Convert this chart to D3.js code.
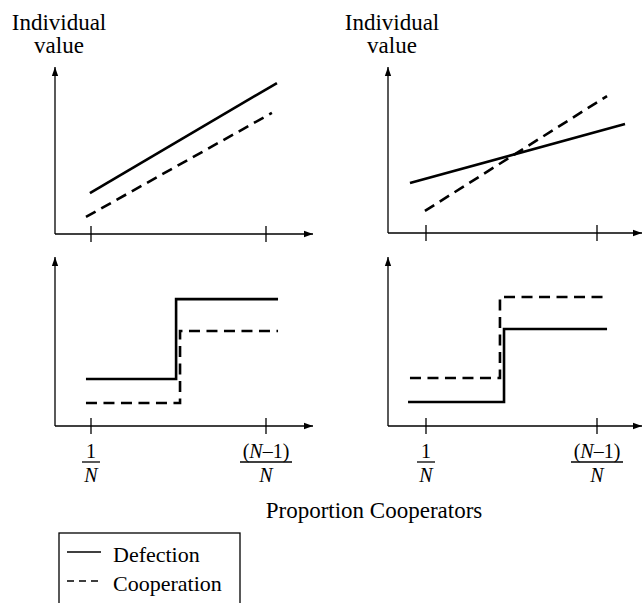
<!DOCTYPE html>
<html>
<head>
<meta charset="UTF-8">
<style>
  body { margin: 0; background: #fff; }
  svg text { font-family: "Liberation Serif", serif; fill: #000; }
</style>
</head>
<body>
<svg width="642" height="603"></svg>
<script src="https://cdn.jsdelivr.net/npm/d3@7"></script>
<script>
// x: proportion of cooperators (ticks at 1/N and (N-1)/N, drawn as 0.1 and 0.9)
// y: individual value (arbitrary units 0..100)
const tickValues = [0.1, 0.9];
const tickLabels = [["1", "N"], ["(N–1)", "N"]];

const seriesNames = ["Defection", "Cooperation"];

// top-left: linear, defection above cooperation
const tlDefX = [0.095, 0.95], tlDefY = [24.5, 90.4];
const tlCoopX = [0.077, 0.927], tlCoopY = [10.2, 72.5];

// top-right: linear, lines cross
const trDefX = [0.025, 1.031], trDefY = [30.1, 65.7];
const trCoopX = [0.095, 0.947], trCoopY = [13.3, 82.5];

// bottom-left: step, defection above
const blDefX = [0.077, 0.489, 0.955], blDefY = [27.8, 75.1, 75.1];
const blCoopX = [0.077, 0.507, 0.955], blCoopY = [13.6, 56.2, 56.2];

// bottom-right: step, cooperation above
const brDefX = [0.016, 0.465, 0.947], brDefY = [14.2, 57.4, 57.4];
const brCoopX = [0.025, 0.446, 0.947], brCoopY = [28.4, 76.3, 76.3];

const svg = d3.select("svg");

const defs = svg.append("defs");
defs.append("marker")
    .attr("id", "arrow")
    .attr("viewBox", "0 -5 10 10")
    .attr("refX", 10)
    .attr("refY", 0)
    .attr("markerWidth", 9)
    .attr("markerHeight", 9)
    .attr("markerUnits", "userSpaceOnUse")
    .attr("orient", "auto")
    .append("path")
    .attr("d", "M0,-3.5L10,0L0,3.5Z")
    .attr("fill", "#000");

// panel layout: origin, axis ends, tick pixel positions
const panels = [
    { ox: 55, oy: 234, xEnd: 313, yTop: 67, t0: 91, t1: 266, kind: "line",
      def: [tlDefX, tlDefY], coop: [tlCoopX, tlCoopY], title: true, ticks: false },
    { ox: 388, oy: 233, xEnd: 642, yTop: 67, t0: 426, t1: 597, kind: "line",
      def: [trDefX, trDefY], coop: [trCoopX, trCoopY], title: true, ticks: false },
    { ox: 55, oy: 426, xEnd: 313, yTop: 257, t0: 91, t1: 266, kind: "step",
      def: [blDefX, blDefY], coop: [blCoopX, blCoopY], title: false, ticks: true },
    { ox: 388, oy: 426, xEnd: 642, yTop: 257, t0: 426, t1: 597, kind: "step",
      def: [brDefX, brDefY], coop: [brCoopX, brCoopY], title: false, ticks: true }
];

panels.forEach(p => {
    const x = d3.scaleLinear().domain(tickValues).range([p.t0, p.t1]);
    const y = d3.scaleLinear().domain([0, 100]).range([p.oy, p.yTop]);
    const g = svg.append("g");

    // axes with arrow heads
    g.append("line")
        .attr("x1", p.ox).attr("y1", p.oy)
        .attr("x2", p.xEnd).attr("y2", p.oy)
        .attr("stroke", "#000").attr("stroke-width", 1.3)
        .attr("marker-end", "url(#arrow)");
    g.append("line")
        .attr("x1", p.ox).attr("y1", p.oy)
        .attr("x2", p.ox).attr("y2", p.yTop)
        .attr("stroke", "#000").attr("stroke-width", 1.3)
        .attr("marker-end", "url(#arrow)");

    // tick marks
    g.selectAll(".tick")
        .data(tickValues)
        .enter()
        .append("line")
        .attr("x1", d => x(d)).attr("x2", d => x(d))
        .attr("y1", p.oy - 8).attr("y2", p.oy + 8)
        .attr("stroke", "#000").attr("stroke-width", 1.3);

    const line = d3.line()
        .x(d => x(d[0]))
        .y(d => y(d[1]))
        .curve(p.kind == "step" ? d3.curveStepAfter : d3.curveLinear);

    const zipped = s => s[0].map((v, i) => [v, s[1][i]]);

    g.append("path")
        .attr("d", line(zipped(p.coop)))
        .attr("fill", "none")
        .attr("stroke", "#000")
        .attr("stroke-width", 2.6)
        .attr("stroke-dasharray", "11,6.5");
    g.append("path")
        .attr("d", line(zipped(p.def)))
        .attr("fill", "none")
        .attr("stroke", "#000")
        .attr("stroke-width", 2.6);

    if (p.title) {
        const cx = p.ox + 4;
        g.append("text").attr("x", cx).attr("y", 30)
            .attr("text-anchor", "middle").style("font-size", "23px")
            .text("Individual");
        g.append("text").attr("x", cx).attr("y", 53)
            .attr("text-anchor", "middle").style("font-size", "23px")
            .text("value");
    }

    if (p.ticks) {
        tickValues.forEach((v, i) => {
            const tx = x(v);
            const lab = tickLabels[i];
            const num = g.append("text")
                .attr("x", tx).attr("y", 458)
                .attr("text-anchor", "middle").style("font-size", "20px");
            if (i == 0) {
                num.text(lab[0]);
            } else {
                num.append("tspan").text("(");
                num.append("tspan").style("font-style", "italic").text("N");
                num.append("tspan").text("–1)");
            }
            const w = i == 0 ? 18 : 52;
            g.append("line")
                .attr("x1", tx - w / 2).attr("x2", tx + w / 2)
                .attr("y1", 462).attr("y2", 462)
                .attr("stroke", "#000").attr("stroke-width", 1.3);
            g.append("text")
                .attr("x", tx).attr("y", 481.5)
                .attr("text-anchor", "middle").style("font-size", "20px")
                .style("font-style", "italic")
                .text(lab[1]);
        });
    }
});

// x-axis title
svg.append("text")
    .attr("x", 374).attr("y", 518)
    .attr("text-anchor", "middle").style("font-size", "23px")
    .text("Proportion Cooperators");

// legend (box runs off the bottom edge)
svg.append("rect")
    .attr("x", 59).attr("y", 533)
    .attr("width", 181).attr("height", 90)
    .attr("fill", "none").attr("stroke", "#000").attr("stroke-width", 1.3);

const legend = svg.selectAll(".legend")
    .data(seriesNames)
    .enter()
    .append("g")
    .attr("transform", (d, i) => "translate(0," + (552 + i * 29) + ")");

legend.append("line")
    .attr("x1", 67).attr("x2", 101)
    .attr("y1", 0).attr("y2", 0)
    .attr("stroke", "#000").attr("stroke-width", 1.3)
    .attr("stroke-dasharray", (d, i) => i == 0 ? null : "7,5");

legend.append("text")
    .attr("x", 113).attr("y", 10)
    .style("font-size", "22px")
    .text(d => d);
</script>
</body>
</html>
